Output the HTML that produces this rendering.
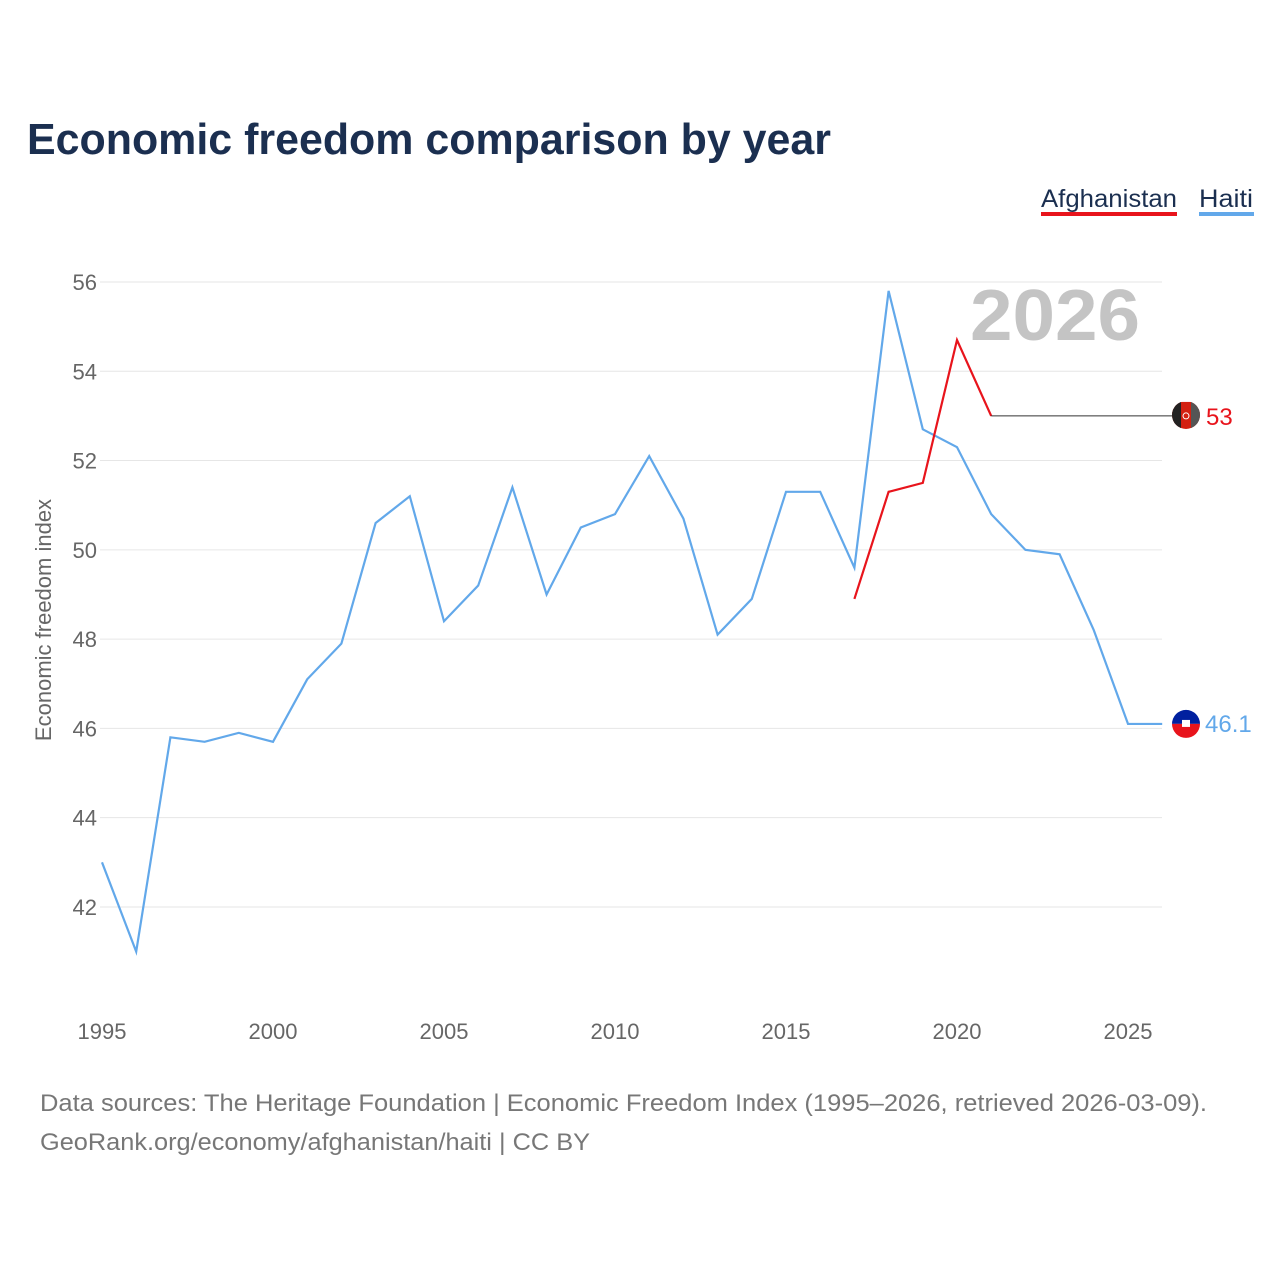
<!DOCTYPE html>
<html><head><meta charset="utf-8"><style>
body{margin:0;background:#fff;}
svg text{font-family:"Liberation Sans",sans-serif;}
</style></head><body>
<svg id="chart" width="1280" height="1280" xmlns="http://www.w3.org/2000/svg">
<defs><clipPath id="afc"><circle cx="1186" cy="415" r="14"/></clipPath></defs>
<text x="27" y="154" font-size="44" font-weight="bold" fill="#1b2f50" textLength="804" lengthAdjust="spacingAndGlyphs">Economic freedom comparison by year</text>
<g>
<text x="1041" y="207" font-size="25" fill="#1b2f50" textLength="136" lengthAdjust="spacingAndGlyphs">Afghanistan</text>
<rect x="1041" y="212" width="136" height="4" fill="#e8141c"/></g>
<g>
<text x="1199" y="207" font-size="25" fill="#1b2f50" textLength="54" lengthAdjust="spacingAndGlyphs">Haiti</text>
<rect x="1199" y="212" width="55" height="4" fill="#62a8ea"/></g>
<text x="1140" y="340" font-size="72" font-weight="bold" fill="#c4c4c4" text-anchor="end" textLength="170" lengthAdjust="spacingAndGlyphs">2026</text>
<text transform="translate(51,620) rotate(-90)" font-size="22" fill="#666" text-anchor="middle">Economic freedom index</text>
<g id="grid"></g><g id="series"></g>
<text x="40" y="1111" font-size="24" fill="#777" textLength="1167" lengthAdjust="spacingAndGlyphs">Data sources: The Heritage Foundation | Economic Freedom Index (1995–2026, retrieved 2026-03-09).</text>
<text x="40" y="1150" font-size="24" fill="#777" textLength="550" lengthAdjust="spacingAndGlyphs">GeoRank.org/economy/afghanistan/haiti | CC BY</text>
</svg>
<script>
const years=[1995,1996,1997,1998,1999,2000,2001,2002,2003,2004,2005,2006,2007,2008,2009,2010,2011,2012,2013,2014,2015,2016,2017,2018,2019,2020,2021,2022,2023,2024,2025,2026];
const haiti=[43.0,41.0,45.8,45.7,45.9,45.7,47.1,47.9,50.6,51.2,48.4,49.2,51.4,49.0,50.5,50.8,52.1,50.7,48.1,48.9,51.3,51.3,49.6,55.8,52.7,52.3,50.8,50.0,49.9,48.2,46.1,46.1];
const afgYears=[2017,2018,2019,2020,2021];
const afg=[48.9,51.3,51.5,54.7,53.0];
const afgLatest=53.0;
const yTicks=[42,44,46,48,50,52,54,56];
const xTicks=[1995,2000,2005,2010,2015,2020,2025];
const NS="http://www.w3.org/2000/svg";
const X=y=>102+(y-1995)*34.2;
const Y=v=>282+(56-v)*44.64;
const grid=document.getElementById('grid'),ser=document.getElementById('series');
function mk(tag,attrs,parent){const e=document.createElementNS(NS,tag);for(const k in attrs)e.setAttribute(k,attrs[k]);parent.appendChild(e);return e;}
yTicks.forEach(t=>{
 const l=mk('line',{x1:100,x2:1162,y1:Y(t),y2:Y(t),stroke:'#e6e6e6','stroke-width':1},grid);
 
 
 const tx=mk('text',{x:97,y:Y(t)+8,'font-size':22,fill:'#666','text-anchor':'end'},grid);tx.textContent=t;
 
 
});
xTicks.forEach(t=>{
 const tx=mk('text',{x:X(t),y:1039,'font-size':22,fill:'#666','text-anchor':'middle'},grid);tx.textContent=t;
 
 
});
const hp=mk('polyline',{points:years.map((y,i)=>X(y)+','+Y(haiti[i])).join(' '),fill:'none',stroke:'#62a8ea','stroke-width':2.2},ser);


const ap=mk('polyline',{points:afgYears.map((y,i)=>X(y)+','+Y(afg[i])).join(' '),fill:'none',stroke:'#e8141c','stroke-width':2.2},ser);


const ext=mk('line',{x1:X(afgYears[afgYears.length-1]),y1:Y(afg[afg.length-1]),x2:1175,y2:Y(afgLatest),stroke:'#333','stroke-width':1},ser);


const am=mk('g',{'clip-path':'url(#afc)'},ser);


const ay=Y(afgLatest);
mk('rect',{x:1172,y:ay-14,width:28,height:28,fill:'#d32011'},am);
mk('rect',{x:1172,y:ay-14,width:9,height:28,fill:'#222'},am);
mk('rect',{x:1191,y:ay-14,width:9,height:28,fill:'#555'},am);
mk('circle',{cx:1186,cy:ay,r:3,fill:'none',stroke:'#fff','stroke-width':1},am);
const at=mk('text',{x:1206,y:ay+9,'font-size':24,fill:'#e8141c'},ser);at.textContent=afgLatest;


const hm=mk('g',{},ser);


const hy=Y(haiti[haiti.length-1]);
mk('path',{d:`M1172 ${hy} A14 14 0 0 1 1200 ${hy}Z`,fill:'#00209f'},hm);
mk('path',{d:`M1172 ${hy} A14 14 0 0 0 1200 ${hy}Z`,fill:'#e8141c'},hm);
mk('rect',{x:1182,y:hy-4,width:8,height:7,fill:'#fff'},hm);
const ht=mk('text',{x:1205,y:hy+8,'font-size':24,fill:'#62a8ea'},ser);ht.textContent=haiti[haiti.length-1];


</script>
</body></html>
